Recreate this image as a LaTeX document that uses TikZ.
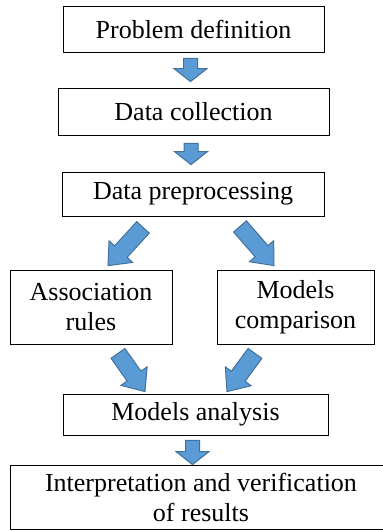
\documentclass[tikz,border=0pt]{standalone}
\usepackage{fontspec}
\setmainfont{LiberationSerif}[Extension=.ttf, UprightFont=*-Regular]
\usepackage{tikz}
\usetikzlibrary{calc, positioning}
\definecolor{ARF}{HTML}{5B9BD5}
\definecolor{ARD}{HTML}{41719C}
\tikzset{
  BOX/.style={% Style for the step boxes
      rectangle, line width=0.8pt,
      align=center,
      inner sep=0pt,
      font=\fontsize{26}{30}\selectfont,
      draw=black,
  },
  fatarrow/.style={% Block arrow from start to target
    to path={
      ($(\tikztostart)!\fatshaft!90:(\tikztotarget)$)
      -- ($(\tikztotarget)!\fatlen!(\tikztostart)!\fatshaft!-90:(\tikztostart)$)
      -- ($(\tikztotarget)!\fatlen!(\tikztostart)!\fathead!-90:(\tikztostart)$)
      -- (\tikztotarget)
      -- ($(\tikztotarget)!\fatlen!(\tikztostart)!\fathead!90:(\tikztostart)$)
      -- ($(\tikztotarget)!\fatlen!(\tikztostart)!\fatshaft!90:(\tikztostart)$)
      -- ($(\tikztostart)!\fatshaft!-90:(\tikztotarget)$)
      -- cycle
    },
    fill=ARF, draw=ARD, line width=1pt, line join=miter,
    fat/.cd,#1
  },
  fatarrow/.default={},
  VARR/.style={fatarrow={shaft=7pt, head=16.5pt, len=13pt}},% straight down
  DARR/.style={fatarrow={shaft=8.5pt, head=16pt, len=19pt}},% slanted
  fat/.cd,
  shaft/.store in=\fatshaft,
  shaft = 7pt,
  head/.store in=\fathead,
  head = 16.5pt,
  len/.store in=\fatlen,
  len = 13pt
}

\begin{document}
\begin{tikzpicture}[x=1pt, y=-1pt]
  \useasboundingbox (0,0) rectangle (383,531);
  \node[BOX, minimum width=261pt, minimum height=46pt] (pd) at (193.5,29) {Problem definition};
  \node[BOX, minimum width=271pt, minimum height=47pt] (dc) at (193.5,111.5) {Data collection};
  \node[BOX, minimum width=262pt, minimum height=44pt] (dp) at (193,194) {Data preprocessing};
  \node[BOX, minimum width=162pt, minimum height=74pt] (ar) at (91,307) {Association\\rules};
  \node[BOX, minimum width=157pt, minimum height=74pt] (mc) at (295.5,307) {Models\\comparison};
  \node[BOX, minimum width=265pt, minimum height=41pt] (ma) at (195.5,414.5) {Models analysis};
  \node[BOX, minimum width=382pt, minimum height=64pt] (iv) at (201,497) {Interpretation and verification\\of results};
  \path
    ([xshift=-3pt,yshift=-6pt]pd.south) edge[VARR] ([xshift=-3pt,yshift=6pt]dc.north)
    ([xshift=-2.5pt,yshift=-8pt]dc.south) edge[VARR] ([xshift=-2pt,yshift=7pt]dp.north)
    ([xshift=-50pt,yshift=-11pt]dp.south) edge[DARR] ([xshift=17pt,yshift=4pt]ar.north)
    ([xshift=47pt,yshift=-10pt]dp.south) edge[DARR] ([xshift=-21.5pt,yshift=4pt]mc.north)
    ([xshift=27pt,yshift=-9pt]ar.south) edge[DARR] ([xshift=-50.5pt,yshift=2pt]ma.north)
    ([xshift=-40.5pt,yshift=-9pt]mc.south) edge[DARR] ([xshift=31.5pt,yshift=2pt]ma.north)
    ([xshift=-3pt,yshift=-5pt]ma.south) edge[VARR] ([xshift=-8.5pt,yshift=0pt]iv.north);
\end{tikzpicture}
\end{document}
